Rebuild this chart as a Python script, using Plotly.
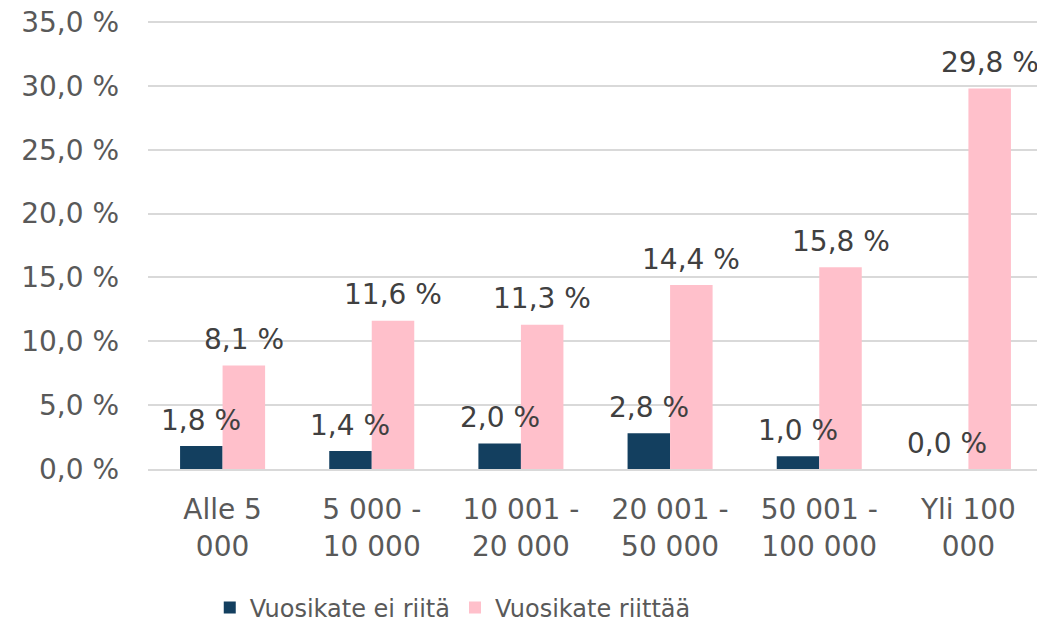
import plotly.graph_objects as go

categories = ["Alle 5<br>000", "5 000 -<br>10 000", "10 001 -<br>20 000",
              "20 001 -<br>50 000", "50 001 -<br>100 000", "Yli 100<br>000"]
ei_riita = [1.8, 1.4, 2.0, 2.8, 1.0, 0.0]
riittaa = [8.1, 11.6, 11.3, 14.4, 15.8, 29.8]
series_names = ["Vuosikate ei riitä", "Vuosikate riittää"]
y_ticks = [0, 5, 10, 15, 20, 25, 30, 35]

FONT = "DejaVu Sans"
BARGAP = 0.43
dark = "#133F5F"
pink = "#FFC0CB"


def fmt(v):
    return f"{v:.1f}".replace(".", ",") + " %"


fig = go.Figure()
fig.add_trace(go.Bar(x=categories, y=ei_riita, name=series_names[0], marker_color=dark,
                     marker_line_width=0))
fig.add_trace(go.Bar(x=categories, y=riittaa, name=series_names[1], marker_color=pink,
                     marker_line_width=0))

half = (1 - BARGAP) / 4
for i in range(len(categories)):
    for vals, off in ((ei_riita, -half), (riittaa, half)):
        fig.add_annotation(x=i + off, y=vals[i], xref="x", yref="y", text=fmt(vals[i]),
                           showarrow=False, yanchor="middle", yshift=26,
                           font=dict(family=FONT, size=28, color="#404040"))

fig.update_layout(
    width=1045, height=621,
    margin=dict(l=140, r=10, t=13, b=160, autoexpand=False),
    paper_bgcolor="white", plot_bgcolor="white",
    barmode="group", bargap=BARGAP, bargroupgap=0,
    font=dict(family=FONT, size=28, color="#595959"),
    showlegend=True,
    legend=dict(orientation="h", x=0.069, xanchor="left", y=-0.31, yanchor="middle",
                font=dict(family=FONT, size=24, color="#595959"),
                itemclick=False, traceorder="normal"),
)
fig.update_yaxes(range=[0, 35.08], tickvals=y_ticks, ticktext=[fmt(v) for v in y_ticks],
                 showgrid=True, gridcolor="#D9D9D9", gridwidth=1.5, zeroline=False,
                 showline=False, ticks="", ticklabelstandoff=28, automargin=False,
                 ticklabeloverflow="allow",
                 tickfont=dict(family=FONT, size=28, color="#595959"))
fig.update_xaxes(showline=True, linecolor="#D9D9D9", linewidth=1.5, ticks="",
                 ticklabelstandoff=15, automargin=False,
                 tickfont=dict(family=FONT, size=28, color="#595959"))

fig.write_html("out.html")
